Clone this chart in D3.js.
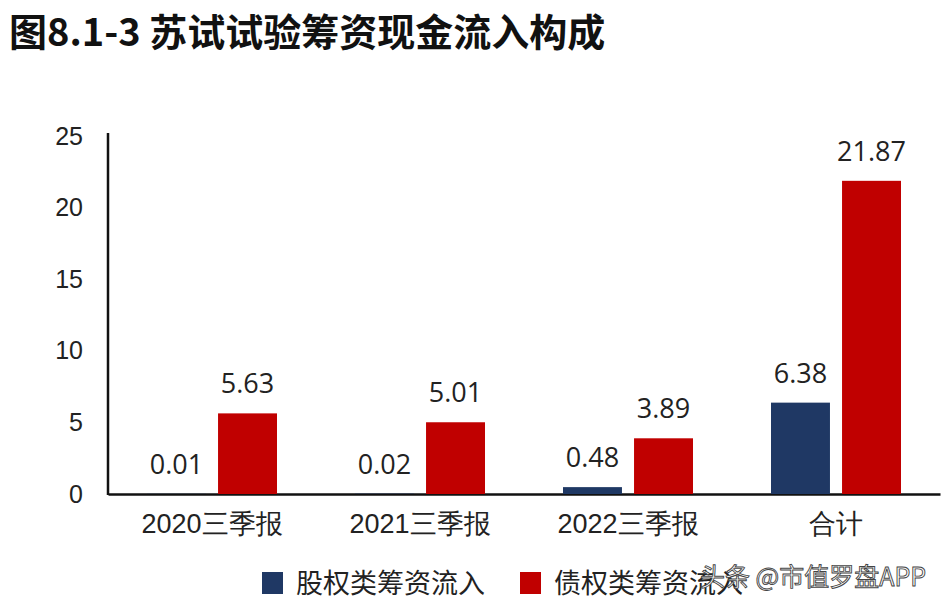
<!DOCTYPE html>
<html>
<head>
<meta charset="utf-8">
<script src="https://cdn.jsdelivr.net/npm/d3@7"></script>
<style>
  body { margin: 0; background: #fff; }
  svg { font-family: "Open Sans", "Noto Sans CJK SC", sans-serif; }
</style>
</head>
<body>
<svg id="chart" width="948" height="606"></svg>
<script>
const categories = ['2020三季报', '2021三季报', '2022三季报', '合计'];
const seriesNames = ['股权类筹资流入', '债权类筹资流入'];
const equityValues = [0.01, 0.02, 0.48, 6.38];
const debtValues = [5.63, 5.01, 3.89, 21.87];
const yTicks = [0, 5, 10, 15, 20, 25];
const colors = ['#1f3864', '#c00000'];

const dados = categories.map((c, i) => ({
    name: c,
    values: [
        { key: seriesNames[0], v: equityValues[i] },
        { key: seriesNames[1], v: debtValues[i] }
    ]
}));

const svg = d3.select('#chart');

// titulo
svg.append('text')
    .attr('x', 9)
    .attr('y', 46)
    .attr('font-family', '"Noto Sans CJK SC", sans-serif')
    .attr('font-weight', 'bold')
    .attr('font-size', 38)
    .attr('fill', '#111')
    .text('图8.1-3 苏试试验筹资现金流入构成');

const plotLeft = 108, plotRight = 940, plotTop = 136, plotBottom = 494;

const xScale = d3.scaleBand()
    .range([plotLeft, plotRight])
    .domain(categories)
    .paddingInner(0.375)
    .paddingOuter(0.1875);

const xSub = d3.scaleBand()
    .range([0, xScale.bandwidth()])
    .domain(seriesNames)
    .paddingInner(0.17);

const yScale = d3.scaleLinear()
    .range([plotBottom, plotTop])
    .domain([0, 25]);

/* eixo x */
const xAxis = svg.append('g')
    .attr('transform', `translate(0, ${plotBottom})`)
    .call(d3.axisBottom(d3.scaleBand().range([plotLeft, plotRight]).domain(categories))
        .tickSize(0).tickSizeOuter(0).tickPadding(20));
xAxis.select('.domain').attr('stroke', '#111').attr('stroke-width', 2.5);
xAxis.selectAll('text')
    .attr('font-size', 27)
    .attr('fill', '#222');

/* eixo y */
const yAxis = svg.append('g')
    .attr('transform', `translate(${plotLeft}, 0)`)
    .call(d3.axisLeft(yScale).tickValues(yTicks).tickSize(0).tickSizeOuter(0).tickPadding(25));
yAxis.select('.domain')
    .attr('d', `M0,${plotTop - 3}V${plotBottom + 1}`)
    .attr('stroke', '#111').attr('stroke-width', 2.5);
yAxis.selectAll('text')
    .attr('font-size', 25)
    .attr('fill', '#222');

const barGroups = svg.selectAll('.grupo')
    .data(dados)
    .enter()
    .append('g')
    .attr('class', 'grupo')
    .attr('transform', (d) => `translate(${xScale(d.name)}, 0)`);

barGroups.selectAll('rect')
    .data((d) => d.values)
    .enter()
    .append('rect')
    .attr('x', (g) => xSub(g.key))
    .attr('y', (g) => yScale(g.v))
    .attr('width', xSub.bandwidth())
    .attr('height', (g) => plotBottom - yScale(g.v))
    .attr('fill', (g, i) => colors[i]);

/* valores */
barGroups.selectAll('.value')
    .data((d) => d.values)
    .enter()
    .append('text')
    .attr('class', 'value')
    .attr('x', (a) => xSub(a.key) + xSub.bandwidth() / 2)
    .attr('y', (a) => yScale(a.v) - 20)
    .attr('text-anchor', 'middle')
    .attr('font-size', 27)
    .attr('fill', '#222')
    .text((a) => a.v.toFixed(2));

/* legenda */
const legend = svg.append('g').attr('transform', 'translate(262, 572)');
const legX = [0, 258];
seriesNames.forEach((s, i) => {
    legend.append('rect')
        .attr('x', legX[i])
        .attr('y', 0)
        .attr('width', 21)
        .attr('height', 22)
        .attr('fill', colors[i]);
    legend.append('text')
        .attr('x', legX[i] + 34)
        .attr('y', 21)
        .attr('font-size', 27)
        .attr('fill', '#222')
        .text(s);
});

// marca d'agua
svg.append('text')
    .attr('x', 700)
    .attr('y', 586)
    .attr('font-family', '"Noto Sans CJK SC", sans-serif')
    .attr('font-size', 25)
    .attr('fill', '#fff')
    .attr('stroke', '#444')
    .attr('stroke-width', 0.9)
    .text('头条 @市值罗盘APP');
</script>
</body>
</html>
